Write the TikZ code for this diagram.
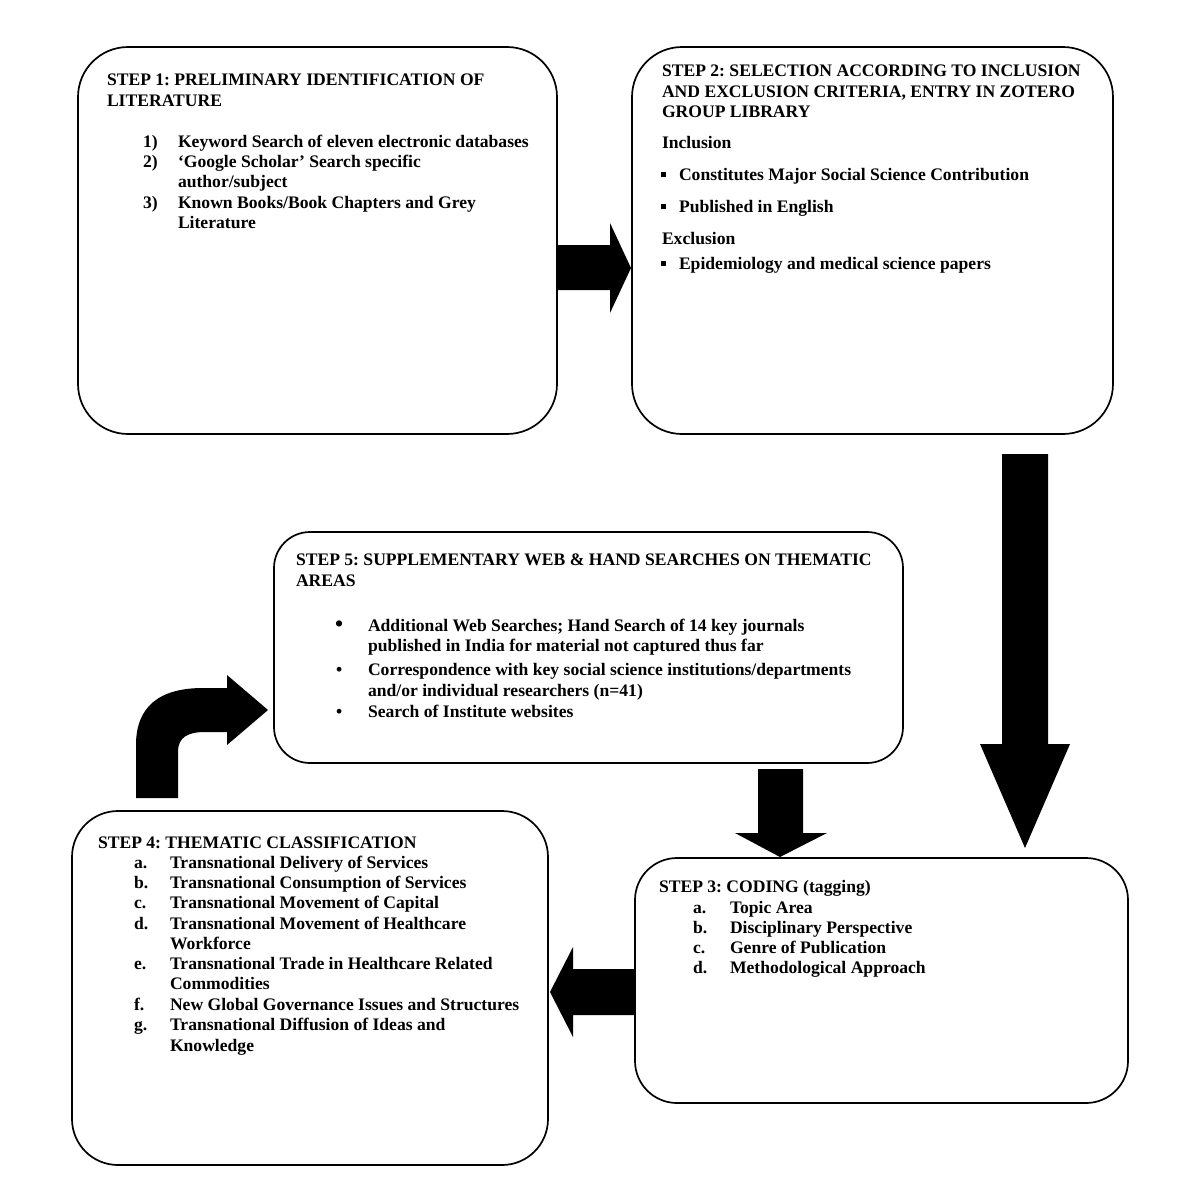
\documentclass[tikz,border=0pt]{standalone}
\usepackage{fontspec}
\setmainfont{Liberation Serif}
\frenchspacing
\begin{document}
\frenchspacing
\begin{tikzpicture}[x=1pt,y=-1pt,
  box/.style={draw, line width=1.7pt, rounded corners=#1, anchor=north west, inner sep=0, outer sep=0},
  txt/.style={anchor=base west, inner sep=0, outer sep=0, font=\fontsize{17.6}{20}\selectfont\bfseries\frenchspacing},
  blk/.style={fill=black, draw=none}]
\useasboundingbox (0,0) rectangle (1200,1200);
% ---------- boxes ----------
\node[box=50pt, minimum width=479pt, minimum height=387pt] (s1) at (78,47) {};
\node[box=50pt, minimum width=481pt, minimum height=387pt] (s2) at (632,47) {};
\node[box=36pt, minimum width=629pt, minimum height=231pt] (s5) at (274,532) {};
\node[box=46pt, minimum width=476pt, minimum height=354pt] (s4) at (72,811) {};
\node[box=42pt, minimum width=493pt, minimum height=245pt] (s3) at (635,858) {};
% ---------- block arrows ----------
% step1 -> step2
\fill[blk] (557,245) -- (610,245) -- (610,223) -- (631,268) -- (610,313) -- (610,290) -- (557,290) -- cycle;
% step2 -> step3
\fill[blk] (1002,454) -- (1048,454) -- (1048,744) -- (1070,744) -- (1025,848) -- (980,744) -- (1002,744) -- cycle;
% step5 -> step3
\fill[blk] (758,769) -- (803,769) -- (803,833) -- (827,833) -- (780,857) -- (735,833) -- (758,833) -- cycle;
% step3 -> step4
\fill[blk] (635,969) -- (573,969) -- (573,947) -- (550,992) -- (573,1037) -- (573,1015) -- (635,1015) -- cycle;
% step4 -> step5 (bent)
\fill[blk] (136,798) -- (136,745) .. controls (136,706) and (160,688) .. (203,688) -- (227,688) -- (227,675)
  -- (268,710) -- (227,745) -- (227,732) -- (205,732) .. controls (188,732) and (178,737) .. (178,752)
  -- (178,798) -- cycle;
% ---------- step 1 text ----------
\node[txt] (a1) at (107,85) {STEP 1: PRELIMINARY IDENTIFICATION OF};
\node[txt] (a2) at (107,106) {LITERATURE};
\node[txt] (a3n) at (143,147) {1)};
\node[txt] (a3) at (178,147) {Keyword Search of eleven electronic databases};
\node[txt] (a4n) at (143,167) {2)};
\node[txt] (a4) at (178,167) {‘Google Scholar’ Search specific};
\node[txt] (a5) at (178,187) {author/subject};
\node[txt] (a6n) at (143,208) {3)};
\node[txt] (a6) at (178,208) {Known Books/Book Chapters and Grey};
\node[txt] (a7) at (178,228) {Literature};
% ---------- step 2 text ----------
\node[txt] (b1) at (662,76) {STEP 2: SELECTION ACCORDING TO INCLUSION};
\node[txt] (b2) at (662,97) {AND EXCLUSION CRITERIA, ENTRY IN ZOTERO};
\node[txt] (b3) at (662,117) {GROUP LIBRARY};
\node[txt] (b4) at (662,148) {Inclusion};
\node[txt] (b5m) at (661,180) {\rule[3pt]{5pt}{5pt}};
\node[txt] (b5) at (679,180) {Constitutes Major Social Science Contribution};
\node[txt] (b6m) at (661,212) {\rule[3pt]{5pt}{5pt}};
\node[txt] (b6) at (679,212) {Published in English};
\node[txt] (b7) at (662,244) {Exclusion};
\node[txt] (b8m) at (661,269) {\rule[3pt]{5pt}{5pt}};
\node[txt] (b8) at (679,269) {Epidemiology and medical science papers};
% ---------- step 5 text ----------
\node[txt] (e1) at (296,565) {STEP 5: SUPPLEMENTARY WEB \& HAND SEARCHES ON THEMATIC};
\node[txt] (e2) at (296,586) {AREAS};
\node[txt] (e3m) at (335,631) {\scalebox{1.3}{•}};
\node[txt] (e3) at (368,631) {Additional Web Searches; Hand Search of 14 key journals};
\node[txt] (e4) at (368,651) {published in India for material not captured thus far};
\node[txt] (e5m) at (336,675) {•};
\node[txt] (e5) at (368,675) {Correspondence with key social science institutions/departments};
\node[txt] (e6) at (368,696) {and/or individual researchers (n=41)};
\node[txt] (e7m) at (336,717) {•};
\node[txt] (e7) at (368,717) {Search of Institute websites};
% ---------- step 4 text ----------
\node[txt] (d0) at (98,848) {STEP 4: THEMATIC CLASSIFICATION};
\node[txt] (d1n) at (134,868) {a.};
\node[txt] (d1) at (170,868) {Transnational Delivery of Services};
\node[txt] (d2n) at (134,888) {b.};
\node[txt] (d2) at (170,888) {Transnational Consumption of Services};
\node[txt] (d3n) at (134,908) {c.};
\node[txt] (d3) at (170,908) {Transnational Movement of Capital};
\node[txt] (d4n) at (134,929) {d.};
\node[txt] (d4) at (170,929) {Transnational Movement of Healthcare};
\node[txt] (d4b) at (170,949) {Workforce};
\node[txt] (d5n) at (134,969) {e.};
\node[txt] (d5) at (170,969) {Transnational Trade in Healthcare Related};
\node[txt] (d5b) at (170,989) {Commodities};
\node[txt] (d6n) at (134,1010) {f.};
\node[txt] (d6) at (170,1010) {New Global Governance Issues and Structures};
\node[txt] (d7n) at (134,1030) {g.};
\node[txt] (d7) at (170,1030) {Transnational Diffusion of Ideas and};
\node[txt] (d7b) at (170,1051) {Knowledge};
% ---------- step 3 text ----------
\node[txt] (c0) at (659,892) {STEP 3: CODING (tagging)};
\node[txt] (c1n) at (693,913) {a.};
\node[txt] (c1) at (730,913) {Topic Area};
\node[txt] (c2n) at (693,933) {b.};
\node[txt] (c2) at (730,933) {Disciplinary Perspective};
\node[txt] (c3n) at (693,953) {c.};
\node[txt] (c3) at (730,953) {Genre of Publication};
\node[txt] (c4n) at (693,973) {d.};
\node[txt] (c4) at (730,973) {Methodological Approach};
\end{tikzpicture}
\end{document}
